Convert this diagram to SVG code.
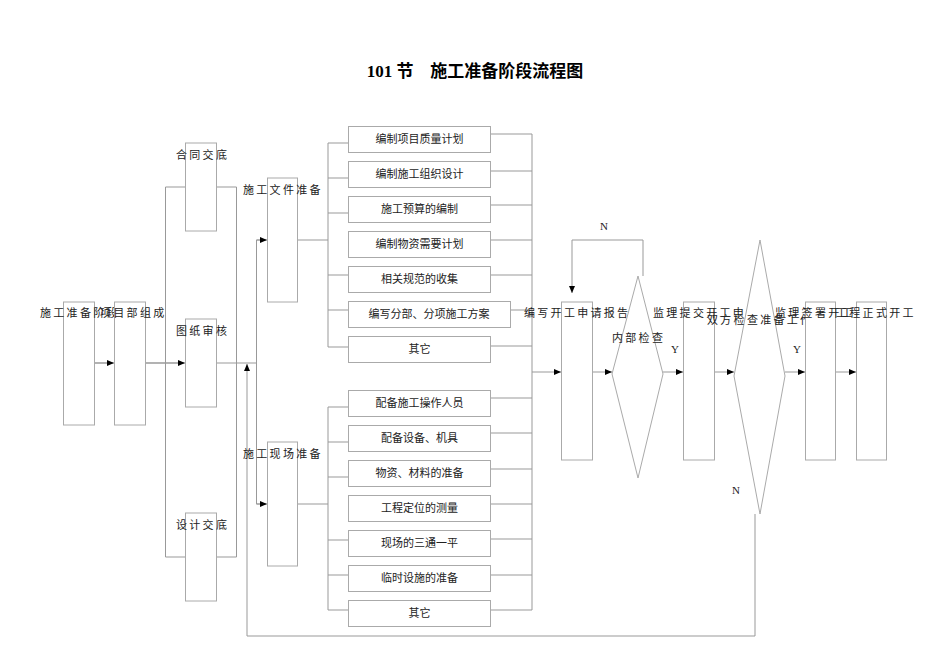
<svg xmlns="http://www.w3.org/2000/svg" width="950" height="672" viewBox="0 0 950 672">
<style>
.b{fill:#fff;stroke:#aaa;stroke-width:1}
.l{fill:none;stroke:#999;stroke-width:1}
.t{font-family:"Liberation Serif","Noto Sans CJK SC",serif;font-size:11px;fill:#222}
.s{letter-spacing:2.3px}
.c{text-anchor:middle}
</style>
<defs><marker id="a" markerWidth="8" markerHeight="8" refX="7" refY="4" orient="auto" markerUnits="userSpaceOnUse"><path d="M0,1 L7,4 L0,7 z" fill="#000"/></marker></defs>
<rect width="950" height="672" fill="#fff"/>
<text x="475" y="77" text-anchor="middle" font-family="Liberation Serif,'Noto Sans CJK SC',serif" font-size="17" font-weight="bold">101 节　施工准备阶段流程图</text>
<g id="connectors">
<path class="l" d="M94,363H113 M146,363H184 M216,363H256 M165.5,187V557 M165.5,187H185 M165.5,557H185 M216,187H236.5V557H216 M256.5,240V504 M256.5,240H266 M256.5,504H266 M297,240H328 M297,504H328 M328,143V347 M328,407V610"/>
<path class="l" d="M328,143H348 M328,178H348 M328,213H348 M328,275H348 M328,310H348 M328,347H348 M328,407H348 M328,442H348 M328,477H348 M328,540H348 M328,575H348 M328,610H348"/>
<path class="l" d="M491,134H532 M491,171H532 M491,205H532 M491,240H532 M491,275H532 M511,310H532 M491,346H532 M491,398H532 M491,433H532 M491,469H532 M491,504H532 M491,539H532 M491,575H532 M491,610H532 M532,134V610"/>
<path class="l" marker-end="url(#a)" d="M94,363H114"/>
<path class="l" marker-end="url(#a)" d="M146,363H185"/>
<path class="l" marker-end="url(#a)" d="M256.5,240H267"/>
<path class="l" marker-end="url(#a)" d="M256.5,504H267"/>
<path class="l" marker-end="url(#a)" d="M755,514V636H247V364"/>
<path class="l" marker-end="url(#a)" d="M532,372H561"/>
<path class="l" marker-end="url(#a)" d="M592,372H612"/>
<path class="l" marker-end="url(#a)" d="M643,276V240H572V293"/>
<path class="l" marker-end="url(#a)" d="M663,372H683"/>
<path class="l" marker-end="url(#a)" d="M714,372H734"/>
<path class="l" marker-end="url(#a)" d="M785,372H805"/>
<path class="l" marker-end="url(#a)" d="M835,372H856"/>
<text class="t" x="604" y="230" text-anchor="middle">N</text>
<text class="t" x="675" y="353" text-anchor="middle">Y</text>
<text class="t" x="797" y="353" text-anchor="middle">Y</text>
<text class="t" x="736" y="494" text-anchor="middle">N</text>
</g>
<g id="n1"><rect class="b" x="63.5" y="302" width="31" height="123"/><text class="t s" x="40" y="317">施工准备阶段</text></g>
<g id="n2"><rect class="b" x="114.5" y="302" width="31" height="123"/><text class="t s" x="100" y="317">项目部组成</text></g>
<g id="n3"><rect class="b" x="185.5" y="143" width="31" height="88"/><text class="t s" x="176" y="159">合同交底</text></g>
<g id="n4"><rect class="b" x="185.5" y="319" width="31" height="88"/><text class="t s" x="176" y="335">图纸审核</text></g>
<g id="n5"><rect class="b" x="185.5" y="513" width="31" height="88"/><text class="t s" x="176" y="529">设计交底</text></g>
<g id="n6"><rect class="b" x="267.5" y="178" width="30" height="124"/><text class="t s" x="243" y="194">施工文件准备</text></g>
<g id="n7"><rect class="b" x="267.5" y="442" width="30" height="124"/><text class="t s" x="243" y="458">施工现场准备</text></g>
<g id="u1"><rect class="b" x="348.5" y="126.5" width="142" height="26"/><text class="t c" x="419.5" y="143">编制项目质量计划</text></g>
<g id="u2"><rect class="b" x="348.5" y="161.5" width="142" height="26"/><text class="t c" x="419.5" y="178">编制施工组织设计</text></g>
<g id="u3"><rect class="b" x="348.5" y="196.5" width="142" height="26"/><text class="t c" x="419.5" y="213">施工预算的编制</text></g>
<g id="u4"><rect class="b" x="348.5" y="231.5" width="142" height="26"/><text class="t c" x="419.5" y="248">编制物资需要计划</text></g>
<g id="u5"><rect class="b" x="348.5" y="266.5" width="142" height="26"/><text class="t c" x="419.5" y="283">相关规范的收集</text></g>
<g id="u6"><rect class="b" x="348.5" y="301.5" width="162" height="26"/><text class="t c" x="429" y="318">编写分部、分项施工方案</text></g>
<g id="u7"><rect class="b" x="348.5" y="336.5" width="142" height="26"/><text class="t c" x="419.5" y="353">其它</text></g>
<g id="d1"><rect class="b" x="348.5" y="390.5" width="142" height="26"/><text class="t c" x="419.5" y="407">配备施工操作人员</text></g>
<g id="d2"><rect class="b" x="348.5" y="425.5" width="142" height="26"/><text class="t c" x="419.5" y="442">配备设备、机具</text></g>
<g id="d3"><rect class="b" x="348.5" y="460.5" width="142" height="26"/><text class="t c" x="419.5" y="477">物资、材料的准备</text></g>
<g id="d4"><rect class="b" x="348.5" y="495.5" width="142" height="26"/><text class="t c" x="419.5" y="512">工程定位的测量</text></g>
<g id="d5"><rect class="b" x="348.5" y="530.5" width="142" height="26"/><text class="t c" x="419.5" y="547">现场的三通一平</text></g>
<g id="d6"><rect class="b" x="348.5" y="565.5" width="142" height="26"/><text class="t c" x="419.5" y="582">临时设施的准备</text></g>
<g id="d7"><rect class="b" x="348.5" y="600.5" width="142" height="26"/><text class="t c" x="419.5" y="617">其它</text></g>
<g id="r1"><rect class="b" x="561.5" y="302" width="31" height="158"/><text class="t s" x="524" y="317">编写开工申请报告</text></g>
<g id="q1"><polygon class="b" points="638,276 663,374 638,478 612,374"/><text class="t s" x="612" y="342">内部检查</text></g>
<g id="r2"><rect class="b" x="683.5" y="302" width="31" height="158"/><text class="t s" x="653" y="317">监理提交开工申</text></g>
<g id="q2"><polygon class="b" points="760,240 785,376 760,514 734,376"/><text class="t s" x="707" y="324">双方检查准备工作</text></g>
<g id="r3"><rect class="b" x="805.5" y="302" width="30" height="158"/><text class="t s" x="775" y="317">监理签署开工</text></g>
<g id="r4"><rect class="b" x="856.5" y="302" width="30" height="158"/><text class="t s" x="836" y="317">工程正式开工</text></g>
</svg>
